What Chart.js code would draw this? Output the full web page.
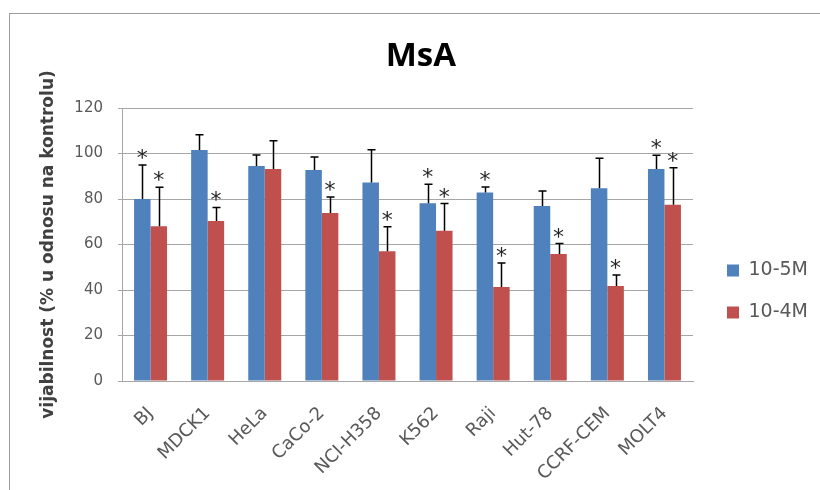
<!DOCTYPE html>
<html><head><meta charset="utf-8">
<script src="https://cdn.jsdelivr.net/npm/chart.js@4"></script>
<style>
html,body{margin:0;padding:0;background:#fff;overflow:hidden}
#wrap{position:relative;width:820px;height:490px;overflow:hidden}
#frame{position:absolute;left:9px;top:13px;width:900px;height:600px;border:1px solid #9d9d9d;}
#c{position:absolute;left:0;top:0}
</style></head><body>
<div id="wrap"><div id="frame"></div><canvas id="c" width="820" height="490"></canvas></div>
<script>
const categories = ['BJ','MDCK1','HeLa','CaCo-2','NCI-H358','K562','Raji','Hut-78','CCRF-CEM','MOLT4'];
const seriesNames = ['10-5M','10-4M'];
const values5 = [80, 101.5, 94.5, 92.8, 87.2, 78.1, 82.9, 76.9, 84.7, 93.2];
const errors5 = [15, 6.7, 4.8, 5.7, 14.4, 8.4, 2.4, 6.6, 13.2, 6];
const values4 = [68, 70.3, 93.2, 73.9, 57, 66, 41.3, 55.8, 41.8, 77.5];
const errors4 = [17.2, 6, 12.4, 7, 10.8, 12, 10.6, 4.6, 4.8, 16.2];
const signif5 = [true, false, false, false, false, true, true, false, false, true];
const signif4 = [true, true, false, true, true, true, true, true, true, true];
const yTicks = [0, 20, 40, 60, 80, 100, 120];
const yTitle = 'vijabilnost (% u odnosu na kontrolu)';
const chartTitle = 'MsA';

const colors = ['#4F81BD', '#C0504D'];
const gridColor = '#a6a6a6';
const textColor = '#595959';

Chart.defaults.font.family = "'DejaVu Sans', sans-serif";

const errorBars = {
  id: 'errorBars',
  afterDatasetsDraw(chart) {
    const ctx = chart.ctx;
    const y = chart.scales.y;
    const sets = [[values5, errors5, signif5], [values4, errors4, signif4]];
    ctx.save();
    sets.forEach((s, di) => {
      const meta = chart.getDatasetMeta(di);
      meta.data.forEach((bar, i) => {
        const top = y.getPixelForValue(s[0][i] + s[1][i]);
        const x = Math.round(bar.x) + 0.5;
        ctx.strokeStyle = '#000';
        ctx.lineWidth = 1.5;
        ctx.beginPath();
        ctx.moveTo(x, bar.y);
        ctx.lineTo(x, top);
        ctx.moveTo(x - 4, top);
        ctx.lineTo(x + 4, top);
        ctx.stroke();
        if (s[2][i]) {
          ctx.fillStyle = '#262626';
          ctx.font = "22px 'DejaVu Sans', sans-serif";
          ctx.textAlign = 'center';
          ctx.textBaseline = 'alphabetic';
          ctx.fillText('*', bar.x, top);
        }
      });
    });
    ctx.restore();
  }
};

const customLayout = {
  id: 'customLayout',
  afterLayout(chart) {
    const lg = chart.legend;
    lg.left += 11; lg.right = chart.width;
    lg.width = lg.right - lg.left;
    lg.top += 46.5; lg.bottom += 46.5;
    const tb = chart.titleBlock;
    tb.left += 24.3; tb.right += 24.3;
  }
};

new Chart(document.getElementById('c'), {
  type: 'bar',
  data: {
    labels: categories,
    datasets: [
      { label: seriesNames[0], data: values5, backgroundColor: colors[0] },
      { label: seriesNames[1], data: values4, backgroundColor: colors[1] }
    ]
  },
  options: {
    responsive: false,
    animation: false,
    layout: { padding: { left: 0, right: 27, top: 0, bottom: 0 } },
    datasets: { bar: { categoryPercentage: 0.578, barPercentage: 1 } },
    plugins: {
      title: {
        display: true, text: chartTitle, color: '#000',
        font: { family: "'Open Sans', sans-serif", size: 33, weight: 'bold' },
        padding: { top: 37, bottom: 31.4 }
      },
      legend: {
        position: 'right',
        maxWidth: 100,
        labels: { boxWidth: 12, boxHeight: 12, padding: 23, color: textColor, font: { size: 19 } }
      },
      tooltip: { enabled: false }
    },
    scales: {
      x: {
        grid: { display: false, drawTicks: false },
        border: { display: true, color: gridColor, width: 1 },
        ticks: { color: textColor, font: { size: 18 }, maxRotation: 45, minRotation: 45, padding: 22 },
        afterFit(s) { s.height = 109; }
      },
      y: {
        min: 0, max: 120,
        afterBuildTicks(s) { s.ticks = yTicks.map(v => ({ value: v })); },
        grid: { color: gridColor, tickColor: gridColor, tickLength: 4 },
        border: { display: true, color: gridColor, width: 1 },
        ticks: { color: textColor, font: { size: 15 }, padding: 15 },
        title: { display: true, text: yTitle, color: '#404040', font: { size: 17, weight: 'bold' }, padding: { top: 38, bottom: 0 } },
        afterFit(s) { s.width = 122; }
      }
    }
  },
  plugins: [errorBars, customLayout]
});
</script>
</body></html>
